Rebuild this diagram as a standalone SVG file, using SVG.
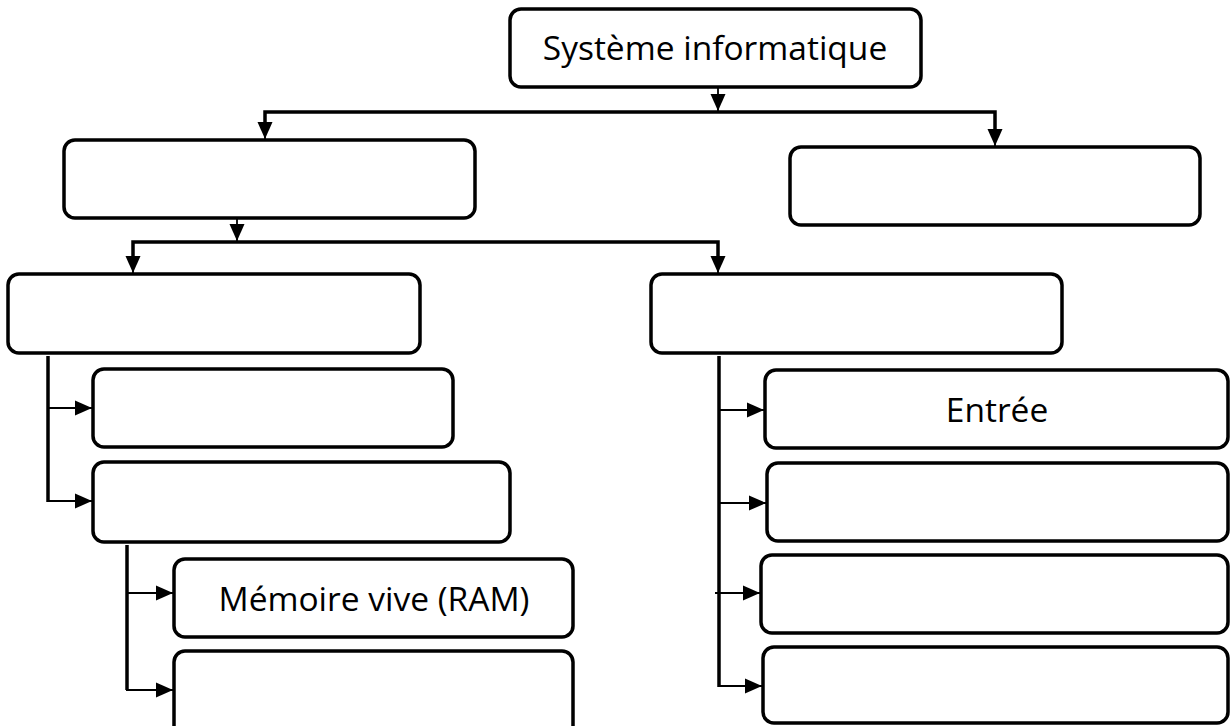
<svg xmlns="http://www.w3.org/2000/svg" width="1230" height="726" viewBox="0 0 1230 726">
<style>
.box{fill:#fff;stroke:#000;stroke-width:3.5}
.thick{stroke:#000;stroke-width:3.5;fill:none}
.thin{stroke:#000;stroke-width:1.8;fill:none}
.lbl{font-family:"Open Sans","Liberation Sans",sans-serif;font-size:33.5px;fill:#000;text-anchor:middle}
</style>
<defs>
<marker id="ah" markerUnits="userSpaceOnUse" markerWidth="18" markerHeight="18" viewBox="0 0 18 18" refX="17" refY="9" orient="auto">
<path d="M0,1.5 L17,9 L0,16.5 Z" fill="#000"/>
</marker>
</defs>
<g id="connectors">
<line class="thin" x1="718" y1="88" x2="718" y2="111" marker-end="url(#ah)"/>
<polyline class="thick" points="265,130 265,112 995,112 995,130"/>
<line class="thin" x1="265" y1="120" x2="265" y2="139" marker-end="url(#ah)"/>
<line class="thin" x1="995" y1="125" x2="995" y2="146" marker-end="url(#ah)"/>
<line class="thin" x1="237" y1="219" x2="237" y2="241" marker-end="url(#ah)"/>
<polyline class="thick" points="133,258 133,242 718,242 718,258"/>
<line class="thin" x1="133" y1="250" x2="133" y2="273" marker-end="url(#ah)"/>
<line class="thin" x1="718" y1="250" x2="718" y2="273" marker-end="url(#ah)"/>
<line class="thick" x1="48" y1="356" x2="48" y2="502"/>
<line class="thin" x1="48" y1="408" x2="92" y2="408" marker-end="url(#ah)"/>
<line class="thin" x1="47" y1="501" x2="92" y2="501" marker-end="url(#ah)"/>
<line class="thick" x1="127" y1="545" x2="127" y2="690"/>
<line class="thin" x1="127" y1="593" x2="173" y2="593" marker-end="url(#ah)"/>
<line class="thin" x1="126" y1="690" x2="173" y2="690" marker-end="url(#ah)"/>
<line class="thick" x1="719" y1="356" x2="719" y2="687"/>
<line class="thin" x1="719" y1="410" x2="764" y2="410" marker-end="url(#ah)"/>
<line class="thin" x1="719" y1="503" x2="766" y2="503" marker-end="url(#ah)"/>
<line class="thin" x1="715" y1="593" x2="760" y2="593" marker-end="url(#ah)"/>
<line class="thin" x1="718" y1="686" x2="762" y2="686" marker-end="url(#ah)"/>
</g>
<g id="n-systeme"><rect class="box" x="510" y="9" width="411" height="78" rx="11"/><text class="lbl" x="715" y="60">Système informatique</text></g>
<g id="n-b"><rect class="box" x="64" y="140" width="411" height="78" rx="11"/></g>
<g id="n-r"><rect class="box" x="790" y="147" width="410" height="78" rx="11"/></g>
<g id="n-c"><rect class="box" x="8" y="274" width="412" height="79" rx="11"/></g>
<g id="n-d"><rect class="box" x="651" y="274" width="411" height="79" rx="11"/></g>
<g id="n-e"><rect class="box" x="93" y="369" width="360" height="78" rx="11"/></g>
<g id="n-f"><rect class="box" x="93" y="462" width="417" height="80" rx="11"/></g>
<g id="n-ram"><rect class="box" x="174" y="559" width="399" height="78" rx="11"/><text class="lbl" x="374" y="611">Mémoire vive (RAM)</text></g>
<g id="n-h"><rect class="box" x="174" y="651" width="399" height="90" rx="11"/></g>
<g id="n-entree"><rect class="box" x="765" y="370" width="463" height="78" rx="11"/><text class="lbl" x="997" y="422">Entrée</text></g>
<g id="n-j"><rect class="box" x="767" y="463" width="461" height="78" rx="11"/></g>
<g id="n-k"><rect class="box" x="761" y="555" width="467" height="78" rx="11"/></g>
<g id="n-l"><rect class="box" x="763" y="647" width="465" height="76" rx="11"/></g>
</svg>
